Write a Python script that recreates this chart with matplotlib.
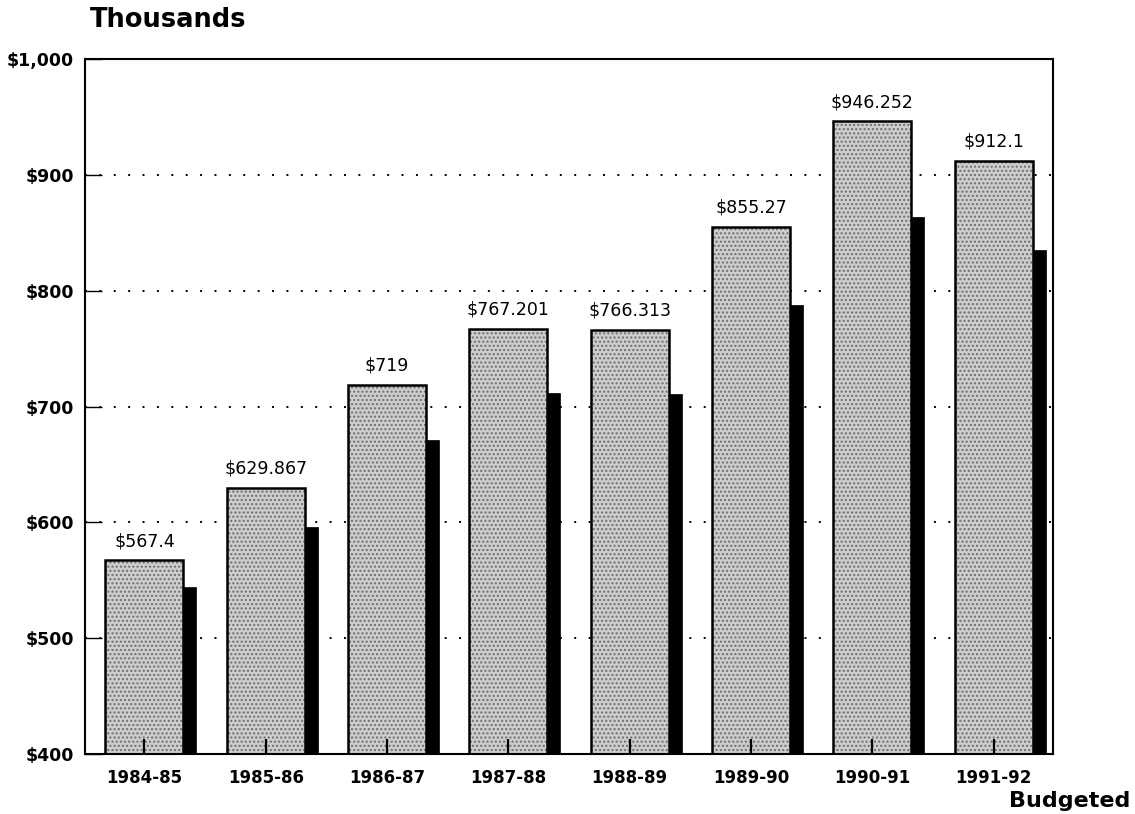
import matplotlib

matplotlib.use("Agg")
import matplotlib.pyplot as plt
import numpy as np

years = ["1984-85", "1985-86", "1986-87", "1987-88",
         "1988-89", "1989-90", "1990-91", "1991-92"]
budgeted = [567.4, 629.867, 719, 767.201, 766.313, 855.27, 946.252, 912.1]
actual = [544, 596, 671, 712, 711, 788, 864, 835]
y_ticks = [400, 500, 600, 700, 800, 900, 1000]

plt.rcParams["font.family"] = "DejaVu Sans"
plt.rcParams["hatch.linewidth"] = 1.0

fig = plt.figure(figsize=(11.35, 8.14), dpi=100)
ax = fig.add_axes([0.0749, 0.0737, 0.8529, 0.8538])

x = np.arange(len(years))
bar_w = 0.643
dark_w = 0.107

# gridlines (dotted) behind the bars
for v in y_ticks[1:-1]:
    ax.axhline(v, color="black", linewidth=1.4, linestyle=(0, (1, 6.4)), zorder=0)

# dark bars sitting to the right of each budget bar
ax.bar(x + bar_w / 2, actual, width=dark_w, align="edge",
       color="black", edgecolor="black", linewidth=0.5, zorder=2)

# stippled budget bars
ax.bar(x, budgeted, width=bar_w, color="#cdcdcd", edgecolor="#6e6e6e",
       hatch="....", linewidth=0, zorder=3)
ax.bar(x, budgeted, width=bar_w, fill=False, edgecolor="black",
       linewidth=1.8, zorder=4)

for xi, v in zip(x, budgeted):
    ax.annotate(f"${v:g}", xy=(xi, v), xytext=(0, 10), textcoords="offset points",
                ha="center", va="baseline", fontsize=12.5, zorder=5)

ax.set_xlim(-0.49, 7.49)
ax.set_ylim(400, 1000)

ax.set_xticks(x)
ax.set_xticklabels(years, fontsize=12, fontweight="bold")
ax.tick_params(axis="x", direction="in", length=11, width=1.6, pad=11, color="black")

ax.set_yticks(y_ticks)
ax.set_yticklabels([f"${v:,.0f}" for v in y_ticks], fontsize=12.5, fontweight="bold")
ax.tick_params(axis="y", direction="in", length=12, width=1.0, pad=8)

ax.xaxis.set_zorder(5)
ax.yaxis.set_zorder(1)

for spine in ax.spines.values():
    spine.set_linewidth(1.5)
    spine.set_color("black")
    spine.set_zorder(6)

fig.text(0.079, 0.967, "Thousands", fontsize=18.5, fontweight="bold",
         ha="left", va="baseline")
fig.text(0.9956, 0.0086, "Budgeted", fontsize=16, fontweight="bold",
         ha="right", va="baseline")

fig.savefig("out.png", dpi=100)
plt.close(fig)
